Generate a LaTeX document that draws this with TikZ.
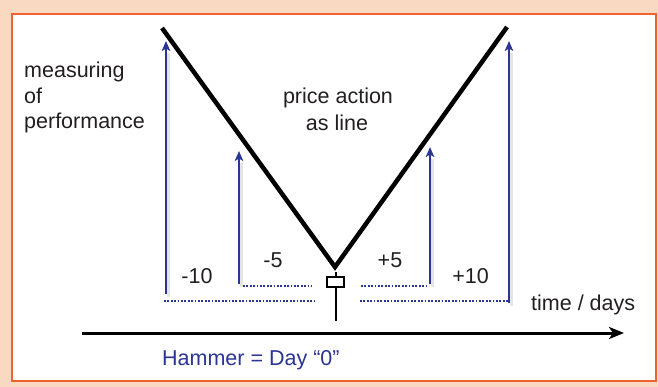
\documentclass[tikz,border=0pt]{standalone}
\usepackage{fontspec}
\setmainfont{Liberation Sans}
\usetikzlibrary{arrows.meta}
\definecolor{peach}{HTML}{FAD9C3}
\definecolor{frameorange}{HTML}{EC6430}
\definecolor{darkblue}{HTML}{2B3595}
\definecolor{txt}{HTML}{231F20}
\tikzset{
  lbl/.style={inner sep=0pt, text=txt, font=\fontsize{21.5}{25.5}\selectfont},
  bluelbl/.style={lbl, text=darkblue},
  measure/.style={draw=darkblue, line width=2.8pt, -{Stealth[length=10pt,width=8.5pt,inset=2.5pt]}},
  shadowline/.style={draw=black!10, line width=2.4pt},
  dotline/.style={draw=darkblue, line width=2.3pt, dash pattern=on 1.7pt off 1.7pt},
  priceline/.style={draw=black, line width=4.5pt, line join=miter},
  candle/.style={draw=black, line width=2pt},
  axis/.style={draw=black, line width=3pt, -{Stealth[length=15pt,width=12pt,inset=4pt]}}
}
\begin{document}
\begin{tikzpicture}[x=1pt,y=-1pt]
\useasboundingbox[fill=peach] (0,0) rectangle (658,387);
\draw[frameorange, line width=2.6pt, fill=white] (12,14) rectangle (656,381);

% price line
\coordinate (vl) at (162,28);
\coordinate (vb) at (335,267);
\coordinate (vr) at (507,27);
\draw[priceline] (vl) -- (vb) -- (vr);

% measuring arrows
\coordinate (a1b) at (166,294); \coordinate (a1t) at (166,41);
\coordinate (a2b) at (239,284); \coordinate (a2t) at (239,151);
\coordinate (a3b) at (430,284); \coordinate (a3t) at (430,147);
\coordinate (a4b) at (509,303); \coordinate (a4t) at (509,41);
\foreach \a in {a1,a2,a3,a4}{
  \draw[shadowline] ([shift={(2.5,3)}]\a b) -- ([shift={(2.5,12)}]\a t);
}
\foreach \a in {a1,a2,a3,a4}{
  \draw[measure] (\a b) -- (\a t);
}

% dotted baselines
\coordinate (d1a) at (164,301); \coordinate (d1b) at (316,301);
\coordinate (d2a) at (360,301); \coordinate (d2b) at (509,301);
\coordinate (d3a) at (243,286); \coordinate (d3b) at (312,286);
\coordinate (d4a) at (361,286); \coordinate (d4b) at (429,286);
\draw[dotline] (d1a) -- (d1b);
\draw[dotline] (d2a) -- (d2b);
\draw[dotline] (d3a) -- (d3b);
\draw[dotline] (d4a) -- (d4b);

% hammer candle
\node[candle, minimum width=17pt, minimum height=10pt, inner sep=0pt] (box) at (335.5,282) {};
\coordinate (wt) at (335.5,272);
\coordinate (wb) at (335.5,321);
\draw[candle] (wt) -- (box.north);
\draw[candle] (box.south) -- (wb);

% time axis
\coordinate (ax0) at (82,333);
\coordinate (ax1) at (624,333);
\draw[axis] (ax0) -- (ax1);

% labels
\node[lbl, anchor=base west] (m1) at (24,78) {measuring};
\node[lbl, anchor=base west] (m2) at (24,103.5) {of};
\node[lbl, anchor=base west] (m3) at (24,129) {performance};
\node[lbl, anchor=base] (p1) at (338,104) {price action};
\node[lbl, anchor=base] (p2) at (337,131) {as line};
\node[lbl, anchor=base] (lm10) at (197,283) {-10};
\node[lbl, anchor=base] (lm5) at (273,267) {-5};
\node[lbl, anchor=base] (lp5) at (390,267) {+5};
\node[lbl, anchor=base] (lp10) at (470.5,283) {+10};
\node[lbl, anchor=base west] (td) at (531,310) {time / days};
\node[bluelbl, anchor=base west] (hm) at (162,365) {Hammer = Day “0”};
\end{tikzpicture}
\end{document}
